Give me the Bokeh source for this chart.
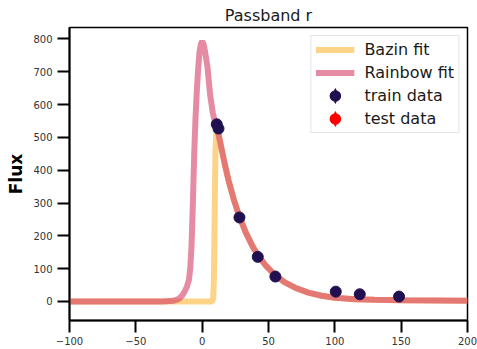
import numpy as np
from bokeh.plotting import figure
from bokeh.models import Range1d, FixedTicker, Legend, LegendItem, ColumnDataSource
from bokeh.embed import file_html
from bokeh.resources import INLINE

# ---- data ----
bazin_t = [-100, 7.5, 8.3, 8.8, 9.2, 9.6, 10.0, 10.5, 11, 12, 14, 17, 20, 24, 28, 33, 38,
           42, 48, 55, 62, 70, 80, 90, 100, 115, 130, 150, 175, 200]
bazin_flux = [0, 0, 10, 60, 180, 330, 450, 505, 522, 520, 477, 419, 367, 309, 259, 209, 168,
              141, 109, 80, 59, 42, 27, 17.5, 11.3, 7, 5, 4, 3, 2]

rainbow_t = [-100, -30, -22, -18, -15, -13, -11.5, -10, -9, -8, -7, -6, -5, -4, -3, -2, -1, 0,
             1, 2, 3, 4, 6, 8, 10, 12, 14, 17, 20, 24, 28, 33, 38, 42, 48, 55, 62, 70, 80,
             90, 100, 115, 130, 150, 175, 200]
rainbow_flux = [0, 0, 2, 7, 18, 32, 45, 65, 100, 170, 300, 450, 560, 645, 710, 760, 785, 792,
                785, 765, 740, 715, 630, 575, 540, 515, 477, 419, 367, 309, 259, 209, 168, 141,
                109, 80, 59, 42, 27, 17.5, 11.3, 7, 5, 4, 3, 2]

train_t = [11.0, 12.3, 28.1, 41.9, 55.2, 100.7, 118.8, 148.4]
train_flux = [540, 527, 256, 136, 76, 30, 22, 15]
train_err = [10, 10, 9, 8, 8, 8, 8, 8]

# no test points are visible in the picture (legend entry only)
test_t = [np.nan]
test_flux = [np.nan]

x_ticks = [-100, -50, 0, 50, 100, 150, 200]
x_tick_labels = ["\u2212100", "\u221250", "0", "50", "100", "150", "200"]
y_ticks = [0, 100, 200, 300, 400, 500, 600, 700, 800]

FONT = "DejaVu Sans"
NAVY = "#21104f"
BAZIN = "#fdd387"
RAINBOW = "#d43e66"

p = figure(width=477, height=349, output_backend="svg", toolbar_location=None,
           x_range=Range1d(-100, 200), y_range=Range1d(-58, 835),
           min_border_left=69, min_border_right=10, min_border_bottom=29, min_border_top=27)
p.title.text = "Passband r"
p.title.align = "center"
p.title.text_font = FONT
p.title.text_font_size = "16px"
p.title.text_font_style = "normal"
p.title.text_color = "#1a1a1a"
p.title.standoff = 5
p.title.offset = 0

p.grid.visible = False
p.background_fill_color = "white"
p.border_fill_color = "white"
p.outline_line_color = "black"
p.outline_line_width = 1.5
p.outline_line_alpha = 1.0

for ax in (p.xaxis[0], p.yaxis[0]):
    ax.axis_line_width = 2
    ax.axis_line_color = "black"
    ax.major_tick_line_width = 2
    ax.major_tick_line_color = "black"
    ax.major_tick_out = 12
    ax.major_tick_in = 0
    ax.minor_tick_out = 0
    ax.minor_tick_in = 0
    ax.major_label_text_font = FONT
    ax.major_label_text_font_size = "10px"
    ax.major_label_text_color = "#333333"

p.xaxis[0].ticker = FixedTicker(ticks=x_ticks)
p.xaxis[0].major_label_overrides = dict(zip(x_ticks, x_tick_labels))
p.xaxis[0].major_label_standoff = 4
p.yaxis[0].ticker = FixedTicker(ticks=y_ticks)
p.yaxis[0].major_label_standoff = 5
p.yaxis[0].axis_label = "Flux"
p.yaxis[0].axis_label_text_font = FONT
p.yaxis[0].axis_label_text_font_size = "17px"
p.yaxis[0].axis_label_text_font_style = "bold"
p.yaxis[0].axis_label_text_color = "black"
p.yaxis[0].axis_label_standoff = 4

r_bazin = p.line(bazin_t, bazin_flux, line_color=BAZIN, line_width=6)
r_rain = p.line(rainbow_t, rainbow_flux, line_color=RAINBOW, line_width=6, line_alpha=0.6)

lo = [f - e for f, e in zip(train_flux, train_err)]
hi = [f + e for f, e in zip(train_flux, train_err)]
p.segment(x0=train_t, y0=lo, x1=train_t, y1=hi, line_color=NAVY, line_width=2)
p.scatter(train_t, train_flux, marker="circle", size=11, fill_color=NAVY, line_color=NAVY)
p.scatter(test_t, test_flux, marker="circle", size=11, fill_color="red", line_color="red")

# legend-only glyphs (NaN position, so never drawn in the plot area)
leg_src = ColumnDataSource(data=dict(x=[np.nan], y=[np.nan]))
def legend_marker(color):
    dot = p.scatter(x="x", y="y", source=leg_src, marker="circle", size=8,
                    fill_color=color, line_color=color, line_width=4)
    bar = p.ellipse(x="x", y="y", source=leg_src, width=2.5, height=15,
                    width_units="screen", height_units="screen",
                    fill_color=color, line_color=color, line_width=0.5)
    return [dot, bar]

legend = Legend(items=[
    LegendItem(label="Bazin fit", renderers=[r_bazin]),
    LegendItem(label="Rainbow fit", renderers=[r_rain]),
    LegendItem(label="train data", renderers=legend_marker(NAVY)),
    LegendItem(label="test data", renderers=legend_marker("red")),
], location="top_right")
legend.label_text_font = FONT
legend.label_text_font_size = "16px"
legend.label_text_color = "#1a1a1a"
legend.glyph_width = 39
legend.glyph_height = 19
legend.spacing = 4
legend.padding = 4
legend.margin = 8
legend.label_standoff = 10
legend.border_line_color = "#cccccc"
legend.border_line_width = 1
legend.background_fill_alpha = 0.8
p.add_layout(legend)

open("out.html", "w").write(file_html(p, INLINE))
